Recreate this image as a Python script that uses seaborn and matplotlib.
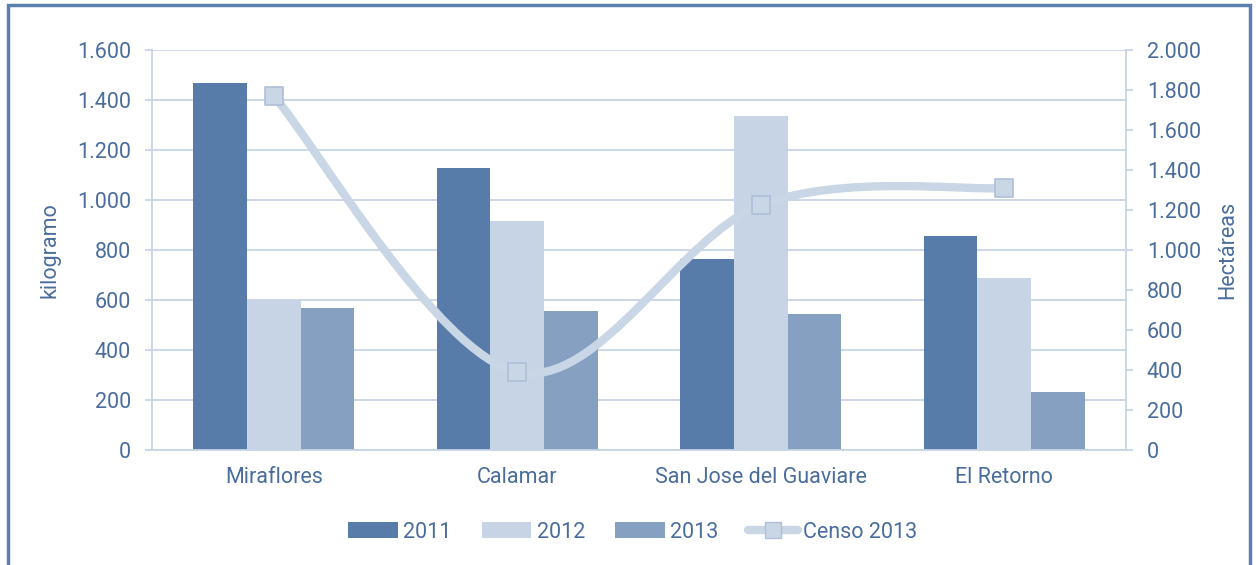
import matplotlib
matplotlib.use("Agg")
import matplotlib.pyplot as plt
import numpy as np
import pandas as pd
import seaborn as sns
from matplotlib.lines import Line2D
from matplotlib.path import Path
from matplotlib.patches import PathPatch, Rectangle
from matplotlib.ticker import FixedLocator, FuncFormatter, MultipleLocator

municipios = ["Miraflores", "Calamar", "San Jose del Guaviare", "El Retorno"]
years = ["2011", "2012", "2013"]
kg_2011 = [1468, 1128, 764, 856]
kg_2012 = [600, 916, 1336, 688]
kg_2013 = [568, 556, 544, 232]
censo_2013 = [1770, 390, 1225, 1310]

c2011, c2012, c2013 = "#587ca9", "#c6d4e5", "#86a0c1"
line_col = "#c9d6e6"
txt = "#4a6d9e"
grid_col = "#c7d4e6"
fs = 15.5

sns.set_style("white")
plt.rcParams["font.family"] = ["Roboto", "DejaVu Sans"]

df = pd.DataFrame({
    "municipio": municipios * 3,
    "anio": [y for y in years for _ in municipios],
    "kg": kg_2011 + kg_2012 + kg_2013,
})

fig = plt.figure(figsize=(12.56, 5.65), dpi=100)
ax = fig.add_axes([152 / 1256, 1 - 450 / 565, (1126 - 152) / 1256, 400 / 565])

sns.barplot(data=df, x="municipio", y="kg", hue="anio", hue_order=years,
            palette={"2011": c2011, "2012": c2012, "2013": c2013},
            width=0.66, gap=0, saturation=1, edgecolor="none", ax=ax)
ax.set_xlim(-0.5, 3.5)
ax.set_ylim(0, 1600)
ax.yaxis.set_major_locator(MultipleLocator(200))
fmt = FuncFormatter(lambda v, p: f"{int(v):,}".replace(",", "."))
ax.yaxis.set_major_formatter(fmt)
ax.set_axisbelow(True)
ax.grid(axis="y", color=grid_col, lw=1.3)
ax.set_xlabel("")
ax.set_ylabel("kilogramo", color=txt, fontsize=fs, labelpad=12)
for s in ["top", "right"]:
    ax.spines[s].set_visible(False)
for s in ["left", "bottom"]:
    ax.spines[s].set_color(grid_col)
    ax.spines[s].set_linewidth(1.3)
ax.tick_params(axis="y", colors=grid_col, labelcolor=txt, labelsize=fs, length=5, width=1.3, pad=10, direction="out")
ax.tick_params(axis="x", which="major", length=0, labelcolor=txt, labelsize=fs, pad=12)
ax.xaxis.set_minor_locator(FixedLocator([0.5, 1.5, 2.5]))
ax.tick_params(axis="x", which="minor", length=6, width=1.3, color=grid_col, direction="out")

handles, labels = ax.get_legend_handles_labels()
ax.get_legend().remove()

ax2 = ax.twinx()
ax2.set_ylim(0, 2000)
ax2.yaxis.set_major_locator(MultipleLocator(200))
ax2.yaxis.set_major_formatter(fmt)
for s in ["top", "left", "bottom"]:
    ax2.spines[s].set_visible(False)
ax2.spines["right"].set_color(grid_col)
ax2.spines["right"].set_linewidth(1.3)
ax2.tick_params(axis="y", colors=grid_col, labelcolor=txt, labelsize=fs, length=5, width=1.3, pad=10)
ax2.set_ylabel("Hectáreas", color=txt, fontsize=fs, labelpad=12)

# smoothed line (Catmull-Rom style bezier, like spreadsheet smoothing)
xs = np.arange(len(censo_2013), dtype=float)
pts = np.column_stack([xs, censo_2013])
ext = np.vstack([pts[0], pts, pts[-1]])
verts = [tuple(pts[0])]
codes = [Path.MOVETO]
for i in range(len(pts) - 1):
    p0, p1, p2, p3 = ext[i], ext[i + 1], ext[i + 2], ext[i + 3]
    verts += [tuple(p1 + (p2 - p0) / 6), tuple(p2 - (p3 - p1) / 6), tuple(p2)]
    codes += [Path.CURVE4] * 3
ax2.add_patch(PathPatch(Path(verts, codes), fc="none", ec=line_col, lw=6, capstyle="round"))
sns.scatterplot(x=xs, y=censo_2013, marker="s", s=150, color=line_col, edgecolor="#aebfd7",
                linewidth=1.2, ax=ax2, zorder=5)

handles.append(Line2D([], [], color=line_col, lw=6, marker="s", markersize=12,
                      markeredgecolor="#aebfd7", markeredgewidth=1))
labels.append("Censo 2013")
fig.legend(handles, labels, loc="center", bbox_to_anchor=(633 / 1256, 1 - 532 / 565), ncol=4,
           frameon=False, fontsize=fs, labelcolor=txt, handlelength=2.3, handletextpad=0.25,
           columnspacing=1.4)

fig.patches.append(Rectangle((8 / 1256, -0.1), 1242 / 1256, 1.1 - 5 / 565, transform=fig.transFigure,
                             fill=False, ec="#5b80b0", lw=2.5))

fig.savefig("out.png", dpi=100)
